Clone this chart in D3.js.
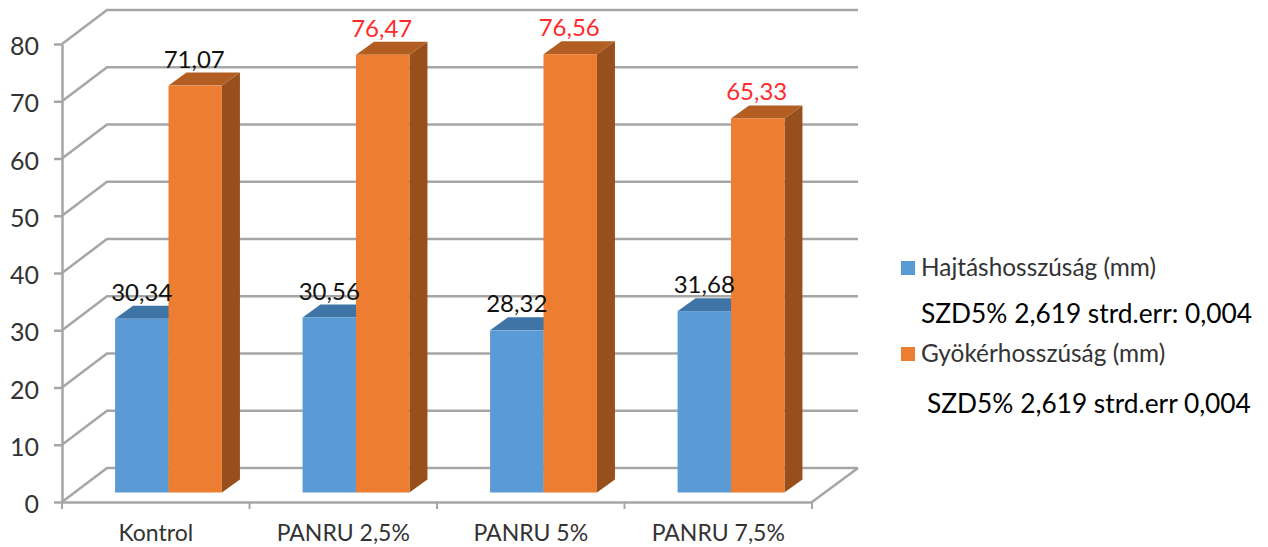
<!DOCTYPE html>
<html>
<head>
<meta charset="utf-8">
<script src="https://cdn.jsdelivr.net/npm/d3@7"></script>
<style>
  body { margin: 0; background: #fff; }
  text { font-family: Lato, sans-serif; }
  .axis path, .axis line { stroke: #a6a6a6; stroke-width: 2.5px; }
  .axis text { fill: #333; }
</style>
</head>
<body>
<div class="chart"></div>
<script>
// data
const categories = ["Kontrol", "PANRU 2,5%", "PANRU 5%", "PANRU 7,5%"];
const seriesNames = ["Hajtáshosszúság (mm)", "Gyökérhosszúság (mm)"];
const shoot = [30.34, 30.56, 28.32, 31.68];
const root = [71.07, 76.47, 76.56, 65.33];
const shootLabels = ["30,34", "30,56", "28,32", "31,68"];
const rootLabels = ["71,07", "76,47", "76,56", "65,33"];
const rootLabelColors = ["#111", "#ff2a2a", "#ff2a2a", "#ff2a2a"];
const yTicks = [0, 10, 20, 30, 40, 50, 60, 70, 80];
const notes = ["SZD5% 2,619 strd.err: 0,004", "SZD5% 2,619 strd.err 0,004"];

const width = 1268, height = 547;
const margin = {top: 44, left: 62, bottom: 45, right: 456};

// fake 3d offsets
const wallDx = 45, wallDy = -34;
const barDx = 18, barDy = -13;
const barLift = 9.5;

const svg = d3.select(".chart").append("svg")
    .attr("width", width)
    .attr("height", height)
    .style("display", "block");

const x = d3.scaleBand().domain(categories).range([margin.left, width - margin.right]);
const y = d3.scaleLinear().domain([0, 80]).range([height - margin.bottom, margin.top]);

// walls: gridlines plus the slanted part on the left
const x0 = x.range()[0], x1 = x.range()[1];
svg.selectAll(".grid")
    .data(yTicks)
    .enter()
    .append("path")
    .attr("class", "grid")
    .attr("fill", "none")
    .attr("stroke", "#a6a6a6")
    .attr("stroke-width", 2.5)
    .attr("d", d => `M${x0},${y(d)}L${x0 + wallDx},${y(d) + wallDy}L${x1 + wallDx + 1},${y(d) + wallDy}`);

// floor right edge
svg.append("path")
    .attr("fill", "none")
    .attr("stroke", "#a6a6a6")
    .attr("stroke-width", 2.5)
    .attr("d", `M${x1},${y(0)}L${x1 + wallDx + 1},${y(0) + wallDy}`);

// axes
svg.append("g")
    .attr("class", "axis")
    .attr("transform", "translate(" + x0 + ",0)")
    .call(d3.axisLeft(y).tickValues(yTicks).tickSize(8).tickPadding(15).tickSizeOuter(0))
    .selectAll("text")
    .attr("dy", "0.42em")
    .style("font-size", "25px");

svg.append("g")
    .attr("class", "axis")
    .attr("transform", "translate(0," + y(0) + ")")
    .call(d3.axisBottom(x).tickSize(0).tickPadding(23).tickSizeOuter(0))
    .selectAll("text")
    .style("font-size", "23px");

// category ticks sit between the bands
svg.selectAll(".cat-tick")
    .data(categories.concat([null]))
    .enter()
    .append("line")
    .attr("stroke", "#a6a6a6")
    .attr("stroke-width", 2)
    .attr("x1", (d, i) => x0 + i * x.bandwidth())
    .attr("x2", (d, i) => x0 + i * x.bandwidth())
    .attr("y1", y(0))
    .attr("y2", y(0) + 7);

// one 3d bar
const barW = x.bandwidth() * 0.285;
const barGap = x.bandwidth() * 0.283;

function drawBars(values, shift, front, top, side) {
    let g = svg.append("g");
    values.forEach((v, i) => {
        let left = x(categories[i]) + barGap + shift;
        let right = left + barW;
        let yTop = y(v) - barLift;
        let yBase = y(0) - barLift;

        g.append("path")
            .attr("fill", side)
            .attr("d", `M${right},${yTop}L${right + barDx},${yTop + barDy}L${right + barDx},${yBase + barDy}L${right},${yBase}Z`);
        g.append("path")
            .attr("fill", top)
            .attr("d", `M${left},${yTop}L${left + barDx},${yTop + barDy}L${right + barDx},${yTop + barDy}L${right},${yTop}Z`);
        g.append("rect")
            .attr("x", left)
            .attr("y", yTop)
            .attr("width", barW)
            .attr("height", yBase - yTop)
            .attr("fill", front);
    });
}

drawBars(shoot, 0, "#5b9bd5", "#3f74a6", "#35628c");
drawBars(root, barW, "#ed7d31", "#b25d22", "#97501b");

// value labels
function drawLabels(values, labels, shift, colors) {
    svg.append("g").selectAll("text")
        .data(values)
        .enter()
        .append("text")
        .attr("x", (d, i) => x(categories[i]) + barGap + shift + barW / 2 - 1)
        .attr("y", d => y(d) - barLift - 18)
        .attr("text-anchor", "middle")
        .style("font-size", "24px")
        .attr("fill", (d, i) => colors[i])
        .text((d, i) => labels[i]);
}
drawLabels(shoot, shootLabels, 1, categories.map(() => "#111"));
drawLabels(root, rootLabels, barW, rootLabelColors);

// legend
const legendY = [268, 354];
const seriesColors = ["#5b9bd5", "#ed7d31"];
seriesNames.forEach((name, i) => {
    svg.append("rect")
        .attr("x", 901).attr("y", legendY[i] - 7)
        .attr("width", 14).attr("height", 14)
        .attr("fill", seriesColors[i]);
    svg.append("text")
        .attr("x", 921).attr("y", legendY[i] + 8)
        .style("font-size", "24.4px")
        .attr("fill", "#333")
        .text(name);
});
svg.append("text").attr("x", 921).attr("y", 323).style("font-size", "26.3px").attr("fill", "#000").text(notes[0]);
svg.append("text").attr("x", 927).attr("y", 413).style("font-size", "26.3px").attr("fill", "#000").text(notes[1]);
</script>
</body>
</html>
